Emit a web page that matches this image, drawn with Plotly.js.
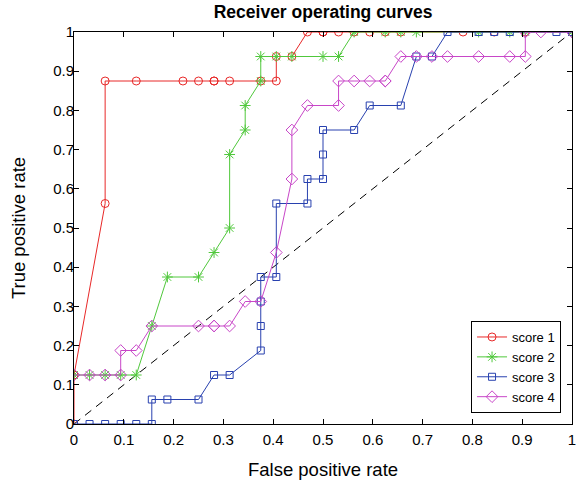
<!DOCTYPE html>
<html><head><meta charset="utf-8">
<script src="https://cdn.plot.ly/plotly-3.0.1.min.js"></script>
<style>html,body{margin:0;padding:0;background:#fff}#plot{width:576px;height:483px}</style>
</head><body><div id="plot"></div>
<script>
const s1x = [0, 0, 0.0625, 0.0625, 0.125, 0.21875, 0.25, 0.28125, 0.28125, 0.3125, 0.375, 0.40625, 0.40625, 0.4375, 0.46875, 0.5, 0.5, 0.53125, 0.5625, 0.59375, 0.625, 0.65625, 0.78125, 0.84375, 0.90625, 1];
const s1y = [0, 0.125, 0.5625, 0.875, 0.875, 0.875, 0.875, 0.875, 0.875, 0.875, 0.875, 0.875, 0.9375, 0.9375, 1, 1, 1, 1, 1, 1, 1, 1, 1, 1, 1, 1];
const s2x = [0, 0.03125, 0.0625, 0.09375, 0.125, 0.15625, 0.1875, 0.25, 0.28125, 0.3125, 0.3125, 0.34375, 0.34375, 0.375, 0.375, 0.40625, 0.4375, 0.5, 0.53125, 0.5625, 0.625, 0.65625, 0.6875, 0.8125, 0.875, 0.90625, 1];
const s2y = [0.125, 0.125, 0.125, 0.125, 0.125, 0.25, 0.375, 0.375, 0.4375, 0.5, 0.6875, 0.75, 0.8125, 0.875, 0.9375, 0.9375, 0.9375, 0.9375, 0.9375, 1, 1, 1, 1, 1, 1, 1, 1];
const s3x = [0, 0.03125, 0.0625, 0.09375, 0.125, 0.15625, 0.15625, 0.1875, 0.25, 0.28125, 0.3125, 0.375, 0.375, 0.375, 0.375, 0.40625, 0.40625, 0.46875, 0.46875, 0.5, 0.5, 0.5, 0.5625, 0.59375, 0.65625, 0.6875, 0.71875, 0.75, 0.8125, 0.84375, 0.875, 0.96875, 1];
const s3y = [0, 0, 0, 0, 0, 0, 0.0625, 0.0625, 0.0625, 0.125, 0.125, 0.1875, 0.25, 0.3125, 0.375, 0.375, 0.5625, 0.5625, 0.625, 0.625, 0.6875, 0.75, 0.75, 0.8125, 0.8125, 0.9375, 0.9375, 1, 1, 1, 1, 1, 1];
const s4x = [0, 0.03125, 0.0625, 0.09375, 0.09375, 0.125, 0.15625, 0.25, 0.28125, 0.28125, 0.3125, 0.34375, 0.375, 0.40625, 0.4375, 0.4375, 0.46875, 0.53125, 0.53125, 0.5625, 0.59375, 0.625, 0.625, 0.65625, 0.6875, 0.71875, 0.75, 0.8125, 0.875, 0.90625, 0.90625, 0.9375, 1];
const s4y = [0.125, 0.125, 0.125, 0.125, 0.1875, 0.1875, 0.25, 0.25, 0.25, 0.25, 0.25, 0.3125, 0.3125, 0.4375, 0.625, 0.75, 0.8125, 0.8125, 0.875, 0.875, 0.875, 0.875, 0.875, 0.9375, 0.9375, 0.9375, 0.9375, 0.9375, 0.9375, 0.9375, 1, 1, 1];
const diagX = [0, 1];
const diagY = [0, 1];
const names = ['score 1', 'score 2', 'score 3', 'score 4'];
const xTicks = [0, 0.1, 0.2, 0.3, 0.4, 0.5, 0.6, 0.7, 0.8, 0.9, 1];
const yTicks = [0, 0.1, 0.2, 0.3, 0.4, 0.5, 0.6, 0.7, 0.8, 0.9, 1];

const colors = ['rgb(232,40,40)', 'rgb(80,200,60)', 'rgb(40,65,175)', 'rgb(200,70,200)'];
const symbols = ['circle-open', 'asterisk-open', 'square-open', 'diamond-open'];
const sizes = [8, 9, 7, 9];
const xs = [s1x, s2x, s3x, s4x], ys = [s1y, s2y, s3y, s4y];
const FONT = 'Liberation Sans, Arial, sans-serif';

const traces = [{
  x: diagX, y: diagY, mode: 'lines', showlegend: false, hoverinfo: 'skip',
  line: {color: '#000', width: 1, dash: '8px,6px'}
}];
for (let i = 0; i < 4; i++) {
  traces.push({
    x: xs[i], y: ys[i], name: names[i], mode: 'lines+markers',
    line: {color: colors[i], width: 1},
    marker: {symbol: symbols[i], size: sizes[i], color: colors[i], line: {color: colors[i], width: 1}}
  });
}

const axisBase = {
  range: [0, 1], autorange: false, showgrid: false, zeroline: false,
  showline: true, linecolor: '#000', linewidth: 1, mirror: 'ticks',
  ticks: 'inside', ticklen: 5, tickcolor: '#000', ticklabeloverflow: 'allow',
  tickfont: {family: FONT, size: 15, color: '#000'}
};

const layout = {
  width: 576, height: 483,
  margin: {l: 74, r: 4, t: 32, b: 59},
  paper_bgcolor: '#fff', plot_bgcolor: '#fff',
  title: {text: '<b>Receiver operating curves</b>', x: 0.561, xanchor: 'center', y: 0.975, yanchor: 'middle',
    font: {family: FONT, size: 17.5, color: '#000'}},
  xaxis: Object.assign({}, axisBase, {tickvals: xTicks, ticktext: xTicks.map(String), ticklabelstandoff: 2,
    title: {text: 'False positive rate', standoff: 16, font: {family: FONT, size: 18.5, color: '#000'}}}),
  yaxis: Object.assign({}, axisBase, {tickvals: yTicks, ticktext: yTicks.map(String), ticklabelstandoff: -4,
    title: {text: 'True positive rate', standoff: 22, font: {family: FONT, size: 18.5, color: '#000'}}}),
  legend: {x: 0.978, xanchor: 'right', y: 0.028, yanchor: 'bottom',
    bgcolor: '#fff', bordercolor: '#000', borderwidth: 1,
    font: {family: FONT, size: 13, color: '#000'},
    tracegroupgap: 0, itemwidth: 30},
  showlegend: true
};

Plotly.newPlot('plot', traces, layout, {displayModeBar: false, staticPlot: true});
</script>
</body></html>
